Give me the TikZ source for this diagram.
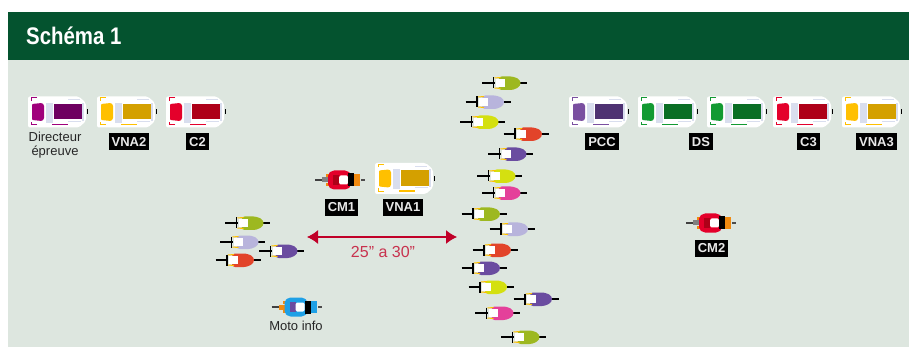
\documentclass[tikz,border=0pt]{standalone}
\usepackage{fontspec}
\setmainfont{Liberation Sans}
\usetikzlibrary{arrows.meta}
\definecolor{headgreen}{HTML}{04532F}
\definecolor{roadgreen}{HTML}{DDE6DF}
\definecolor{glass}{HTML}{D9DEEE}
\definecolor{arrowred}{HTML}{C00028}
\definecolor{textred}{HTML}{C8324E}
\definecolor{tagwhite}{HTML}{E8E8E8}
\definecolor{plum}{HTML}{A0007C}
\definecolor{plumdark}{HTML}{6E0060}
\definecolor{amber}{HTML}{FFC000}
\definecolor{amberdark}{HTML}{D4A000}
\definecolor{carred}{HTML}{E4002B}
\definecolor{carreddark}{HTML}{AE0018}
\definecolor{violet}{HTML}{7A4FA0}
\definecolor{violetdark}{HTML}{4E3272}
\definecolor{teamgreen}{HTML}{129A32}
\definecolor{teamgreendark}{HTML}{0A6E24}
\definecolor{bikegreen}{HTML}{9DB820}
\definecolor{bikelav}{HTML}{B8B4DC}
\definecolor{bikelime}{HTML}{D4E010}
\definecolor{bikered}{HTML}{E2442A}
\definecolor{bikeviolet}{HTML}{6A4CA0}
\definecolor{bikepink}{HTML}{E4409A}
\definecolor{motoblue}{HTML}{1EA0E6}
\definecolor{motoorange}{HTML}{F08A10}
\tikzset{
    tag/.style={fill=black, text=tagwhite, font=\fontsize{13}{13}\selectfont\bfseries, minimum height=17pt, inner xsep=3pt, inner ysep=0pt},
    caption/.style={text=black!85, font=\fontsize{13}{14}\selectfont, inner sep=0pt, align=center},
}
\newcommand{\car}[4]{
    \begin{scope}[shift={(#1,#2)}]
        \fill [white, rounded corners=2pt] (-30,-15.5) -- (21,-15.5) -- (28,-9) -- (28,9) -- (21,15.5) -- (-30,15.5) -- cycle;
        \fill [glass] (-12,-9) rectangle (-5,11);
        \fill [glass] (24,-9) rectangle (26,9);
        \fill [glass] (10,-12.5) rectangle (22,-11.5);
        \fill [glass] (10,9) rectangle (23,10);
        \fill [#3, rounded corners=1pt] (-26,-8) -- (-16,-9) -- (-14,-7) -- (-14,7) -- (-16,9) -- (-26,8) -- cycle;
        \fill [#4] (-4,-8) rectangle (24,7.5);
        \fill [#3] (-6,12) rectangle (10,13.5);
        \draw [#3, line width=1pt] (-21,-14) -- (-27,-14) -- (-27,-11);
        \draw [#3, line width=1pt] (-21,13) -- (-27,13) -- (-27,10);
        \fill [black] (28.5,-2.5) rectangle (30,2.5);
    \end{scope}
}
\newcommand{\rider}[3]{
    \begin{scope}[shift={(#1,#2)}]
        \draw [black, line width=1.5pt] (-22.5,0) -- (-10,0);
        \draw [black, line width=1.5pt] (12,0) -- (22.5,0);
        \fill [#3, rounded corners=3pt] (-6,-6.5) -- (9,-6.5) -- (16,-3) -- (16,3) -- (9,7) -- (-6,7) -- cycle;
        \draw [amber, line width=1pt] (-4,-5.5) -- (-10,-5) (-4,5.5) -- (-10,5);
        \fill [white] (-9,-4) rectangle (0,4);
        \draw [black, line width=1.2pt] (-11,-5.5) -- (-11,5.5);
    \end{scope}
}
\newcommand{\moto}[6]{
    \begin{scope}[shift={(#1,#2)}]
        \draw [black!75, line width=1.5pt] (-25,0) -- (-18,0);
        \fill [#5] (-18,-2.5) rectangle (-11,2.5);
        \fill [motoorange] (-14,-6) rectangle (-10,-3);
        \fill [motoorange] (-14,3) rectangle (-10,6);
        \fill [#6] (12,-6) rectangle (20,6);
        \fill [#3, rounded corners=2pt] (-12,-6) -- (-8,-9.5) -- (7,-9.5) -- (11,-6) -- (11,6) -- (7,9.5) -- (-8,9.5) -- (-12,6) -- cycle;
        \fill [#4] (-7,-5) rectangle (-1,5);
        \fill [white, rounded corners=1.5pt] (-1,-4.5) rectangle (8,4.5);
        \fill [black] (8,-6.5) rectangle (14,6.5);
        \fill [black!70] (21,-1) rectangle (25,1);
    \end{scope}
}
\begin{document}
\begin{tikzpicture}[x=1pt, y=-1pt]
    \useasboundingbox (0,0) rectangle (909,347);
    \fill [white] (0,0) rectangle (909,347);
    \fill [roadgreen] (8,60) rectangle (909,347);
    \fill [headgreen] (8,12) rectangle (909,60);
    \node (title) [text=white, anchor=west, font=\fontsize{24}{24}\selectfont\bfseries, xscale=0.85, inner sep=0pt] at (26,36) {Schéma 1};

    \car{58}{112}{plum}{plumdark}
    \car{127}{112}{amber}{amberdark}
    \car{196}{112}{carred}{carreddark}
    \car{599}{112}{violet}{violetdark}
    \car{668}{112}{teamgreen}{teamgreendark}
    \car{737}{112}{teamgreen}{teamgreendark}
    \car{803}{112}{carred}{carreddark}
    \car{872}{112}{amber}{amberdark}
    \car{405}{178.5}{amber}{amberdark}

    \node (dir) [caption] at (55,145) {Directeur\\épreuve};
    \node (vna2) [tag] at (129,142) {VNA2};
    \node (c2) [tag] at (197.5,142) {C2};
    \node (pcc) [tag] at (602,142) {PCC};
    \node (ds) [tag] at (701,142) {DS};
    \node (c3) [tag] at (808.5,142) {C3};
    \node (vna3) [tag] at (876.5,142) {VNA3};
    \node (cm1) [tag] at (341.5,207.5) {CM1};
    \node (vna1) [tag] at (403,207.5) {VNA1};
    \node (cm2) [tag] at (711.5,248) {CM2};
    \node (info) [caption] at (296,326) {Moto info};

    \moto{340}{180}{carred}{carreddark}{black!50}{motoorange}
    \moto{711}{223}{carred}{carreddark}{black!50}{motoorange}
    \moto{296.5}{307}{motoblue}{bikeviolet}{motoorange}{motoblue}

    \rider{247.5}{223}{bikegreen}
    \rider{242.5}{242}{bikelav}
    \rider{281.5}{251}{bikeviolet}
    \rider{238}{260}{bikered}

    \rider{504.5}{83}{bikegreen}
    \rider{488}{102}{bikelav}
    \rider{482.5}{122}{bikelime}
    \rider{526}{134}{bikered}
    \rider{510.5}{154}{bikeviolet}
    \rider{499.5}{176}{bikelime}
    \rider{504.5}{193}{bikepink}
    \rider{484}{214}{bikegreen}
    \rider{512}{229}{bikelav}
    \rider{495}{250}{bikered}
    \rider{484}{268}{bikeviolet}
    \rider{491}{287}{bikelime}
    \rider{536}{299}{bikeviolet}
    \rider{497.5}{313}{bikepink}
    \rider{523.5}{337}{bikegreen}

    \coordinate (gapstart) at (307,237);
    \coordinate (gapend) at (457,237);
    \draw [{Latex[length=11pt,width=14pt]}-{Latex[length=11pt,width=14pt]}, arrowred, line width=1.3pt] (gapstart) -- (gapend);
    \node (gap) [text=textred, font=\fontsize{16}{16}\selectfont, inner sep=0pt] at (383,252) {25" a 30"};
\end{tikzpicture}
\end{document}
